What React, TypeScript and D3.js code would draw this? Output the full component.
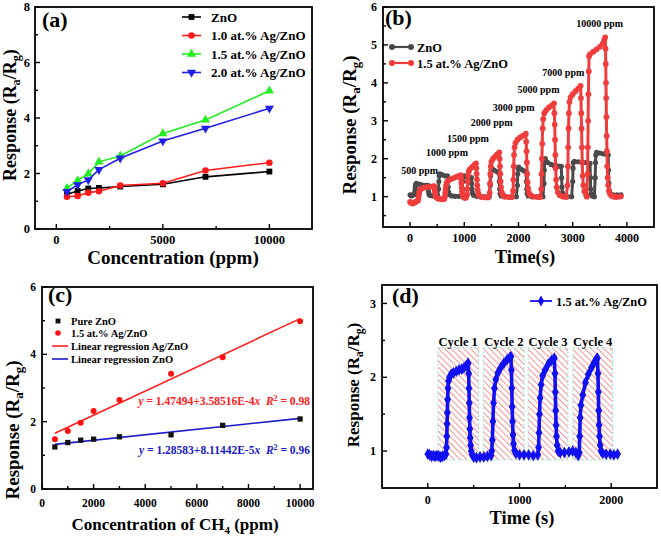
import React, { useEffect, useRef } from 'react';
import * as d3 from 'd3';

const FONT = '"Liberation Serif", "Times New Roman", serif';

// (a) response vs concentration
const concA = [500, 1000, 1500, 2000, 3000, 5000, 7000, 10000];
const respZnO = [1.25, 1.37, 1.46, 1.48, 1.53, 1.61, 1.88, 2.07];
const resp10Ag = [1.16, 1.19, 1.31, 1.36, 1.57, 1.65, 2.11, 2.39];
const resp15Ag = [1.47, 1.75, 1.99, 2.42, 2.63, 3.44, 3.93, 4.98];
const resp20Ag = [1.35, 1.59, 1.77, 2.14, 2.55, 3.17, 3.63, 4.35];
const legendA = ['ZnO', '1.0 at.% Ag/ZnO', '1.5 at.% Ag/ZnO', '2.0 at.% Ag/ZnO'];

// (b) dynamic response, [time s, Ra/Rg]
const dynZnO: [number, number][] = [
  [0, 1.05], [20, 1.02], [40, 1.04], [60, 1.05], [80, 1.06],
  [90, 1.15], [96, 1.25], [102, 1.32], [115, 1.35], [150, 1.33], [200, 1.32], [250, 1.3], [300, 1.3], [330, 1.3],
  [336, 1.2], [342, 1.12], [350, 1.06], [370, 1.03], [420, 1.02], [470, 1.02], [510, 1.03],
  [525, 1.2], [531, 1.4], [538, 1.55], [550, 1.6], [590, 1.58], [640, 1.55], [690, 1.55],
  [696, 1.4], [702, 1.25], [710, 1.12], [725, 1.05], [770, 1.02], [830, 1.01], [900, 1.01], [950, 1.02],
  [965, 1.2], [971, 1.4], [978, 1.52], [1000, 1.55], [1050, 1.52], [1100, 1.5], [1130, 1.5],
  [1136, 1.35], [1142, 1.2], [1150, 1.1], [1170, 1.04], [1230, 1.01], [1300, 1.0], [1380, 1.0], [1460, 1.0],
  [1480, 1.3], [1486, 1.55], [1492, 1.7], [1505, 1.75], [1550, 1.7], [1600, 1.66], [1640, 1.62],
  [1646, 1.4], [1652, 1.2], [1660, 1.08], [1680, 1.02], [1750, 1.0], [1850, 0.99], [1960, 1.0],
  [1980, 1.3], [1986, 1.6], [1992, 1.75], [2005, 1.78], [2050, 1.72], [2100, 1.68], [2140, 1.66],
  [2146, 1.4], [2152, 1.2], [2160, 1.08], [2180, 1.02], [2250, 1.0], [2350, 1.0], [2450, 1.0],
  [2470, 1.35], [2476, 1.7], [2482, 1.9], [2495, 2.0], [2540, 1.9], [2600, 1.85], [2650, 1.82], [2700, 1.82], [2760, 1.8], [2790, 1.8],
  [2796, 1.5], [2802, 1.25], [2810, 1.1], [2830, 1.03], [2900, 1.0], [2980, 1.0],
  [3000, 1.4], [3006, 1.75], [3012, 1.9], [3030, 1.93], [3100, 1.92], [3170, 1.9], [3230, 1.9], [3290, 1.88], [3320, 1.88],
  [3326, 1.5], [3332, 1.2], [3340, 1.07], [3360, 1.02], [3400, 1.0],
  [3415, 1.5], [3421, 1.9], [3427, 2.1], [3440, 2.17], [3500, 2.15], [3560, 2.13], [3620, 2.12], [3655, 2.1],
  [3661, 1.7], [3667, 1.35], [3675, 1.15], [3695, 1.07], [3750, 1.05], [3820, 1.05], [3890, 1.05],
];
const dynAg: [number, number][] = [
  [0, 0.86], [25, 0.83], [50, 0.82], [75, 0.84], [100, 0.86], [125, 0.88], [145, 0.9],
  [155, 0.97], [162, 1.05], [170, 1.12], [180, 1.17], [195, 1.2], [220, 1.22], [260, 1.24], [310, 1.25], [360, 1.26], [410, 1.27], [445, 1.28],
  [452, 1.22], [458, 1.14], [464, 1.07], [472, 1.02], [485, 0.98], [510, 0.95], [550, 0.94], [600, 0.93], [630, 0.94],
  [642, 1.0], [648, 1.1], [655, 1.2], [663, 1.3], [675, 1.37], [700, 1.42], [750, 1.46], [800, 1.49], [850, 1.52], [900, 1.55], [935, 1.57],
  [940, 1.48], [946, 1.36], [952, 1.24], [958, 1.14], [966, 1.06], [980, 1.0], [1000, 0.97], [1030, 0.97],
  [1052, 1.05], [1058, 1.2], [1064, 1.4], [1070, 1.55], [1080, 1.65], [1100, 1.72], [1140, 1.78], [1180, 1.83], [1215, 1.88],
  [1222, 1.75], [1228, 1.6], [1234, 1.45], [1240, 1.3], [1248, 1.18], [1260, 1.08], [1280, 1.02], [1320, 0.99], [1380, 0.98], [1440, 0.98],
  [1468, 1.1], [1474, 1.35], [1480, 1.6], [1488, 1.8], [1500, 1.92], [1530, 2.0], [1570, 2.06], [1610, 2.12], [1645, 2.17],
  [1652, 2.0], [1658, 1.8], [1664, 1.6], [1670, 1.4], [1678, 1.25], [1690, 1.12], [1710, 1.05], [1750, 1.0], [1820, 0.99], [1880, 0.99],
  [1900, 1.15], [1906, 1.45], [1912, 1.8], [1918, 2.1], [1928, 2.3], [1945, 2.42], [1980, 2.5], [2030, 2.56], [2080, 2.61], [2135, 2.66],
  [2142, 2.45], [2148, 2.2], [2154, 1.9], [2160, 1.6], [2168, 1.38], [2178, 1.22], [2195, 1.1], [2220, 1.04], [2280, 1.0], [2350, 0.99], [2400, 0.99],
  [2420, 1.2], [2426, 1.6], [2432, 2.0], [2438, 2.4], [2446, 2.8], [2456, 3.05], [2475, 3.2], [2510, 3.28], [2560, 3.35], [2610, 3.4], [2655, 3.46],
  [2662, 3.2], [2668, 2.9], [2674, 2.5], [2680, 2.1], [2686, 1.75], [2694, 1.45], [2705, 1.25], [2725, 1.12], [2760, 1.04], [2820, 1.0], [2880, 0.99],
  [2905, 1.3], [2911, 1.8], [2917, 2.3], [2923, 2.8], [2930, 3.2], [2940, 3.5], [2960, 3.62], [3000, 3.7], [3050, 3.78], [3100, 3.85], [3145, 3.92],
  [3152, 3.6], [3158, 3.2], [3164, 2.8], [3170, 2.3], [3176, 1.9], [3184, 1.55], [3195, 1.3], [3215, 1.14], [3245, 1.05], [3260, 1.0],
  [3275, 1.6], [3280, 2.3], [3285, 3.0], [3290, 3.7], [3296, 4.3], [3302, 4.7], [3320, 4.76], [3380, 4.82], [3440, 4.88], [3500, 4.95], [3550, 5.03], [3580, 5.12], [3600, 5.2],
  [3606, 4.9], [3610, 4.5], [3614, 4.0], [3618, 3.6], [3622, 3.1], [3627, 2.6], [3632, 2.2], [3638, 1.8], [3645, 1.5], [3655, 1.3], [3670, 1.15], [3690, 1.07], [3720, 1.02], [3760, 1.0], [3800, 0.99], [3850, 1.0], [3890, 1.01],
];
const ppmLabels = ['500 ppm', '1000 ppm', '1500 ppm', '2000 ppm', '3000 ppm', '5000 ppm', '7000 ppm', '10000 ppm'];
const ppmAnchorT = [-165, 294, 679, 1119, 1523, 1982, 2440, 3064];
const ppmAnchorR = [1.61, 2.07, 2.44, 2.86, 3.26, 3.72, 4.17, 5.46];

// (c) linear fit
const concC = [500, 1000, 1500, 2000, 3000, 5000, 7000, 10000];
const pureZnO = [1.25, 1.38, 1.45, 1.48, 1.55, 1.61, 1.89, 2.08];
const agZnO = [1.48, 1.72, 1.97, 2.32, 2.64, 3.42, 3.91, 4.98];
const fitAg = [1.47494, 3.58516e-4];
const fitZnO = [1.28583, 8.11442e-5];

// (d) cycling, [time s, Ra/Rg]
const cycleData: [number, number][] = [
  [0, 0.96], [20, 0.95], [40, 0.93], [60, 0.94], [80, 0.93], [100, 0.94], [120, 0.93], [140, 0.92], [160, 0.93], [180, 0.94], [198, 0.96],
  [204, 1.05], [207, 1.2], [210, 1.37], [213, 1.52], [216, 1.7], [220, 1.85], [226, 1.95], [236, 2.0], [255, 2.04], [280, 2.06], [310, 2.08], [340, 2.1], [370, 2.11], [395, 2.13], [420, 2.16], [440, 2.19],
  [446, 2.05], [449, 1.85], [452, 1.65], [455, 1.45], [458, 1.3], [462, 1.18], [467, 1.08], [474, 1.0], [485, 0.95], [500, 0.92], [530, 0.91], [570, 0.92], [610, 0.92], [650, 0.93], [690, 0.94],
  [698, 1.0], [704, 1.15], [710, 1.4], [717, 1.65], [727, 1.85], [742, 1.97], [765, 2.06], [795, 2.13], [830, 2.19], [865, 2.24], [895, 2.27], [907, 2.28],
  [912, 2.1], [916, 1.85], [920, 1.6], [924, 1.4], [929, 1.22], [935, 1.1], [945, 1.01], [960, 0.97], [1000, 0.95], [1050, 0.95], [1100, 0.95], [1150, 0.94], [1200, 0.95],
  [1208, 1.05], [1213, 1.25], [1218, 1.5], [1225, 1.72], [1236, 1.9], [1252, 2.02], [1280, 2.1], [1315, 2.18], [1350, 2.23], [1380, 2.26],
  [1387, 2.05], [1391, 1.8], [1395, 1.55], [1399, 1.35], [1404, 1.2], [1411, 1.08], [1422, 1.0], [1445, 0.98], [1490, 0.98], [1540, 0.99], [1580, 1.0], [1615, 0.98], [1640, 0.94],
  [1652, 0.98], [1657, 1.2], [1662, 1.45], [1670, 1.62], [1690, 1.76], [1720, 1.93], [1750, 2.04], [1785, 2.13], [1815, 2.2], [1840, 2.25], [1850, 2.26],
  [1856, 2.05], [1860, 1.8], [1864, 1.55], [1868, 1.35], [1873, 1.2], [1880, 1.08], [1890, 1.0], [1907, 0.97], [1945, 0.96], [1990, 0.96], [2030, 0.95], [2070, 0.96],
];
const cycleLabels = ['Cycle 1', 'Cycle 2', 'Cycle 3', 'Cycle 4'];
const cycleStart = [110, 607, 1094, 1582];
const cycleEnd = [553, 1051, 1528, 2015];
const cycleBand = [0.88, 2.4];

const txt = (g: any, x: number, y: number, s: string, fs: number, anchor = 'start', fill = '#000') =>
  g.append('text').attr('x', x).attr('y', y).attr('font-family', FONT).attr('font-weight', 'bold')
    .attr('font-size', fs).attr('text-anchor', anchor).attr('fill', fill).text(s);

const frame = (g: any, x: any, y: any, o: any) => {
  const [l, r] = x.range();
  const [b, t] = y.range();
  const ln = (x1: number, y1: number, x2: number, y2: number) =>
    g.append('line').attr('x1', x1).attr('y1', y1).attr('x2', x2).attr('y2', y2).attr('stroke', '#000').attr('stroke-width', 1.4);
  o.xMajor.forEach((v: number) => { ln(x(v), b, x(v), b - 5); txt(g, x(v), o.xLabY, String(v), o.fs, 'middle'); });
  o.xMinor.forEach((v: number) => ln(x(v), b, x(v), b - 3));
  o.yMajor.forEach((v: number) => { ln(l, y(v), l + 5, y(v)); txt(g, o.yLabX, y(v) + o.fs * 0.35, String(v), o.fs, 'end'); });
  o.yMinor.forEach((v: number) => ln(l, y(v), l + 3, y(v)));
  g.append('rect').attr('x', l).attr('y', t).attr('width', r - l).attr('height', b - t)
    .attr('fill', 'none').attr('stroke', '#000').attr('stroke-width', 1.8);
};

const yTitle = (g: any, bx: number, cy: number, fs: number) => {
  const t = g.append('text').attr('transform', `translate(${bx},${cy}) rotate(-90)`).attr('text-anchor', 'middle')
    .attr('font-family', FONT).attr('font-weight', 'bold').attr('font-size', fs);
  t.append('tspan').text('Response (R');
  t.append('tspan').attr('font-size', fs * 0.68).attr('dy', fs * 0.22).text('a');
  t.append('tspan').attr('dy', -fs * 0.22).text('/R');
  t.append('tspan').attr('font-size', fs * 0.68).attr('dy', fs * 0.22).text('g');
  t.append('tspan').attr('dy', -fs * 0.22).text(')');
};

const sym = (type: any, size: number) => d3.symbol().type(type).size(size)() as string;

function drawA(svg: any) {
  const g = svg.append('g');
  const x = d3.scaleLinear().domain([-1000, 12000]).range([35, 312]);
  const y = d3.scaleLinear().domain([0, 8]).range([229, 7]);
  const series = [
    { vals: respZnO, color: '#000000', shape: d3.symbolSquare, rot: 0, size: 34 },
    { vals: resp10Ag, color: '#ff1a1a', shape: d3.symbolCircle, rot: 0, size: 34 },
    { vals: resp15Ag, color: '#22ee22', shape: d3.symbolTriangle, rot: 0, size: 36 },
    { vals: resp20Ag, color: '#1f1fe8', shape: d3.symbolTriangle, rot: 180, size: 36 },
  ];
  const line = d3.line<number>().x((_, i) => x(concA[i])).y(d => y(d));
  series.forEach(s => {
    g.append('path').attr('d', line(s.vals)).attr('fill', 'none').attr('stroke', s.color).attr('stroke-width', 1.6);
    s.vals.forEach((v, i) => g.append('path').attr('d', sym(s.shape, s.size))
      .attr('transform', `translate(${x(concA[i])},${y(v)}) rotate(${s.rot})`).attr('fill', s.color));
  });
  series.forEach((s, i) => {
    const ly = 17 + i * 18.5;
    g.append('line').attr('x1', 182).attr('x2', 201).attr('y1', ly).attr('y2', ly).attr('stroke', s.color).attr('stroke-width', 1.6);
    g.append('path').attr('d', sym(s.shape, s.size)).attr('transform', `translate(191.5,${ly}) rotate(${s.rot})`).attr('fill', s.color);
    txt(g, 211, ly + 4.5, legendA[i], 13);
  });
  frame(g, x, y, { xMajor: [0, 5000, 10000], xMinor: [2500, 7500], yMajor: [0, 2, 4, 6, 8], yMinor: [1, 3, 5, 7], fs: 12.5, xLabY: 244, yLabX: 30 });
  txt(g, 42, 27, '(a)', 22);
  txt(g, 173, 264, 'Concentration (ppm)', 19, 'middle');
  yTitle(g, 16, 115, 18);
}

function drawB(svg: any) {
  const g = svg.append('g');
  const x = d3.scaleLinear().domain([-500, 4500]).range([383, 654]);
  const y = d3.scaleLinear().domain([0.2, 6]).range([227, 7]);
  const line = d3.line<[number, number]>().x(d => x(d[0])).y(d => y(d[1]));
  const sets = [
    { data: dynZnO, color: '#4a4a4a', r: 2.6 },
    { data: dynAg, color: '#f03c3c', r: 2.9 },
  ];
  sets.forEach(s => {
    g.append('path').attr('d', line(s.data)).attr('fill', 'none').attr('stroke', s.color).attr('stroke-width', 3)
      .attr('stroke-linejoin', 'round');
    g.selectAll(null).data(s.data).enter().append('circle')
      .attr('cx', (d: any) => x(d[0])).attr('cy', (d: any) => y(d[1])).attr('r', s.r).attr('fill', s.color);
  });
  ppmLabels.forEach((s, i) => txt(g, x(ppmAnchorT[i]), y(ppmAnchorR[i]), s, 10));
  const legend = ['ZnO', '1.5 at.% Ag/ZnO'];
  sets.forEach((s, i) => {
    const ly = 47 + i * 16;
    g.append('line').attr('x1', 390).attr('x2', 413).attr('y1', ly).attr('y2', ly).attr('stroke', s.color).attr('stroke-width', 2.2);
    [392, 411].forEach(cx => g.append('circle').attr('cx', cx).attr('cy', ly).attr('r', 3).attr('fill', s.color));
    txt(g, 417, ly + 4.5, legend[i], 12.5);
  });
  frame(g, x, y, { xMajor: [0, 1000, 2000, 3000, 4000], xMinor: [500, 1500, 2500, 3500], yMajor: [1, 2, 3, 4, 5, 6], yMinor: [0.5, 1.5, 2.5, 3.5, 4.5, 5.5], fs: 12, xLabY: 242, yLabX: 377 });
  txt(g, 385, 25, '(b)', 22);
  txt(g, 525, 263, 'Time(s)', 18.5, 'middle');
  yTitle(g, 356, 125, 19);
}

function drawC(svg: any) {
  const g = svg.append('g');
  const x = d3.scaleLinear().domain([0, 10500]).range([42, 313]);
  const y = d3.scaleLinear().domain([0, 6]).range([489, 287]);
  const fitLine = (f: number[]) => d3.line<number>().x(d => x(d)).y(d => y(f[0] + f[1] * d))([500, 10000]);
  g.append('path').attr('d', fitLine(fitAg)).attr('stroke', '#ff2020').attr('stroke-width', 1.6).attr('fill', 'none');
  g.append('path').attr('d', fitLine(fitZnO)).attr('stroke', '#1a1ac8').attr('stroke-width', 1.6).attr('fill', 'none');
  pureZnO.forEach((v, i) => g.append('path').attr('d', sym(d3.symbolSquare, 28)).attr('transform', `translate(${x(concC[i])},${y(v)})`).attr('fill', '#111'));
  agZnO.forEach((v, i) => g.append('circle').attr('cx', x(concC[i])).attr('cy', y(v)).attr('r', 3).attr('fill', '#ff1010'));

  // legend
  g.append('path').attr('d', sym(d3.symbolSquare, 24)).attr('transform', 'translate(58,321)').attr('fill', '#111');
  g.append('circle').attr('cx', 58).attr('cy', 333).attr('r', 2.8).attr('fill', '#ff1010');
  g.append('line').attr('x1', 52).attr('x2', 68).attr('y1', 346).attr('y2', 346).attr('stroke', '#ff2020').attr('stroke-width', 1.6);
  g.append('line').attr('x1', 52).attr('x2', 68).attr('y1', 359).attr('y2', 359).attr('stroke', '#1a1ac8').attr('stroke-width', 1.6);
  txt(g, 71, 325, 'Pure ZnO', 10.5);
  txt(g, 71, 337, '1.5 at.%  Ag/ZnO', 10.5);
  txt(g, 71, 350, 'Linear regression Ag/ZnO', 10.5);
  txt(g, 71, 363, 'Linear regression ZnO', 10.5);

  const eq = (yy: number, f: number[], r2: string, color: string, exp: string) => {
    const t = txt(g, 310, yy, '', 11.5, 'end', color).attr('xml:space', 'preserve');
    t.append('tspan').attr('font-style', 'italic').text('y');
    t.append('tspan').text(` = ${f[0]}+${exp}`);
    t.append('tspan').attr('font-style', 'italic').text('x');
    t.append('tspan').text('  ');
    t.append('tspan').attr('font-style', 'italic').text('R');
    t.append('tspan').attr('font-size', 8).attr('dy', -4).text('2');
    t.append('tspan').attr('dy', 4).text(` = ${r2}`);
  };
  eq(405, fitAg, '0.98', '#ff2020', '3.58516E-4');
  eq(454, fitZnO, '0.96', '#1a1ac8', '8.11442E-5');

  frame(g, x, y, { xMajor: [0, 2000, 4000, 6000, 8000, 10000], xMinor: [1000, 3000, 5000, 7000, 9000], yMajor: [0, 2, 4, 6], yMinor: [1, 3, 5], fs: 11.5, xLabY: 507, yLabX: 36 });
  txt(g, 48, 302, '(c)', 22);
  const xt = txt(g, 175, 530, 'Concentration of CH', 17, 'middle');
  xt.append('tspan').attr('font-size', 11).attr('dy', 4).text('4');
  xt.append('tspan').attr('dy', -4).text(' (ppm)');
  yTitle(g, 19, 430, 19);
}

function drawD(svg: any) {
  const g = svg.append('g');
  const x = d3.scaleLinear().domain([-500, 2500]).range([382, 657]);
  const y = d3.scaleLinear().domain([0.5, 3.25]).range([488, 285]);

  const defs = svg.append('defs');
  const pat = defs.append('pattern').attr('id', 'hatch').attr('patternUnits', 'userSpaceOnUse')
    .attr('width', 4.5).attr('height', 4.5).attr('patternTransform', 'rotate(-45)');
  pat.append('rect').attr('width', 4.5).attr('height', 4.5).attr('fill', '#ffffff');
  pat.append('line').attr('x1', 0).attr('y1', 0).attr('x2', 0).attr('y2', 4.5).attr('stroke', '#f29a9a').attr('stroke-width', 2.2);

  cycleStart.forEach((s, i) => {
    g.append('rect').attr('x', x(s)).attr('y', y(cycleBand[1])).attr('width', x(cycleEnd[i]) - x(s))
      .attr('height', y(cycleBand[0]) - y(cycleBand[1])).attr('fill', 'url(#hatch)')
      .attr('stroke', '#8ee6d8').attr('stroke-width', 1).attr('stroke-dasharray', '2,2');
    txt(g, (x(s) + x(cycleEnd[i])) / 2, 346, cycleLabels[i], 12.5, 'middle');
  });

  const line = d3.line<[number, number]>().x(d => x(d[0])).y(d => y(d[1]));
  g.append('path').attr('d', line(cycleData)).attr('fill', 'none').attr('stroke', '#1010f0').attr('stroke-width', 3.6)
    .attr('stroke-linejoin', 'round');
  cycleData.forEach(d => g.append('path').attr('d', sym(d3.symbolDiamond, 40))
    .attr('transform', `translate(${x(d[0])},${y(d[1])})`).attr('fill', '#1010f0'));

  g.append('line').attr('x1', 530).attr('x2', 552).attr('y1', 301).attr('y2', 301).attr('stroke', '#1010f0').attr('stroke-width', 1.8);
  g.append('path').attr('d', sym(d3.symbolDiamond, 34)).attr('transform', 'translate(541,301)').attr('fill', '#1010f0');
  txt(g, 556, 305.5, '1.5 at.% Ag/ZnO', 12.5);

  frame(g, x, y, { xMajor: [0, 1000, 2000], xMinor: [500, 1500], yMajor: [1, 2, 3], yMinor: [1.5, 2.5], fs: 12, xLabY: 504, yLabX: 376 });
  txt(g, 392, 303, '(d)', 22);
  txt(g, 522, 524, 'Time (s)', 18.5, 'middle');
  yTitle(g, 359, 385, 17);
}

const App = () => {
  const ref = useRef<SVGSVGElement>(null);
  useEffect(() => {
    const svg = d3.select(ref.current);
    svg.selectAll('*').remove();
    drawA(svg);
    drawB(svg);
    drawC(svg);
    drawD(svg);
  }, []);
  return <svg ref={ref} width={661} height={537} style={{ position: 'absolute', left: 0, top: 0, background: '#fff' }} />;
};

export default App;
